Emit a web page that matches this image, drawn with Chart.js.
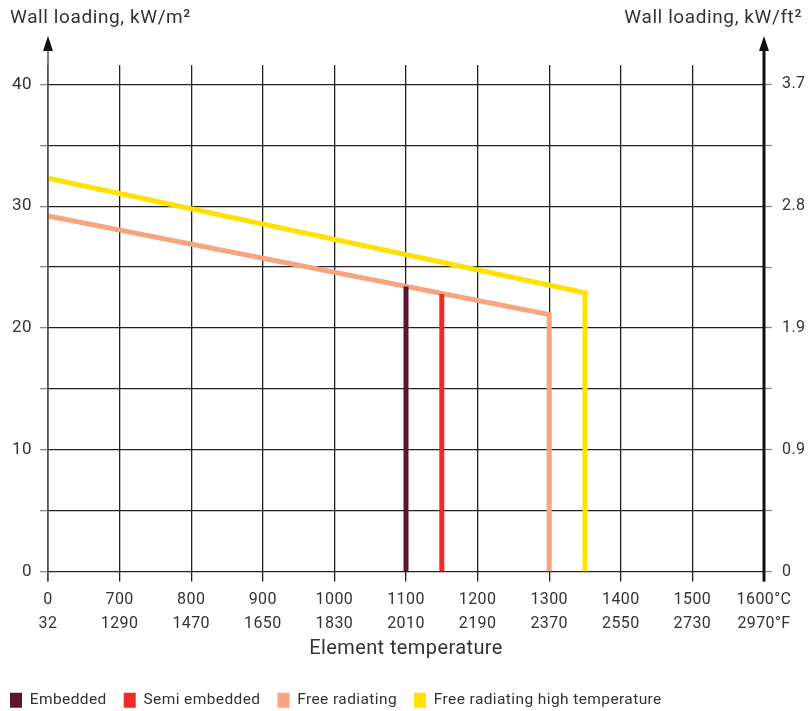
<!DOCTYPE html>
<html>
<head>
<meta charset="utf-8">
<script src="https://cdn.jsdelivr.net/npm/chart.js@4/dist/chart.umd.min.js"></script>
<style>
  html, body { margin: 0; padding: 0; background: #fff; }
  #wrap { width: 808px; height: 711px; }
</style>
</head>
<body>
<div id="wrap"><canvas id="wallChart"></canvas></div>
<script>
// valeurs
const celsiusTicks = [600, 700, 800, 900, 1000, 1100, 1200, 1300, 1400, 1500, 1600];
const celsiusLabels = ["0", "700", "800", "900", "1000", "1100", "1200", "1300", "1400", "1500", "1600°C"];
const fahrenheitLabels = ["32", "1290", "1470", "1650", "1830", "2010", "2190", "2370", "2550", "2730", "2970°F"];
const loadTicks = [0, 5, 10, 15, 20, 25, 30, 35, 40];
const loadLabelsM2 = { 0: "0", 10: "10", 20: "20", 30: "30", 40: "40" };
const loadLabelsFt2 = { 0: "0", 10: "0.9", 20: "1.9", 30: "2.8", 40: "3.7" };

const embeddedTemp = [1100, 1100];
const embeddedLoad = [0, 23.4];
const semiTemp = [1150, 1150];
const semiLoad = [0, 22.8];
const freeTemp = [600, 1300, 1300];
const freeLoad = [29.2, 21.1, 0];
const highTemp = [600, 1350, 1350];
const highLoad = [32.3, 22.9, 0];

function pts(xs, ys) {
  return xs.map(function (x, i) { return { x: x, y: ys[i] }; });
}

const FONT = "Roboto";
const TXT = "#333";
const SPACING = "0.4px";

// petit espacement des lettres, pour coller a la police d'origine
const spacing = {
  id: "spacing",
  beforeLayout: function (chart) { chart.ctx.letterSpacing = SPACING; },
  beforeDraw: function (chart) { chart.ctx.letterSpacing = SPACING; }
};

// titres en haut + fleches des axes
const axisDeco = {
  id: "axisDeco",
  afterDraw: function (chart) {
    const c = chart.ctx;
    const a = chart.chartArea;
    c.save();
    // axe gauche
    c.strokeStyle = "#555";
    c.lineWidth = 1.5;
    c.beginPath(); c.moveTo(a.left, 45); c.lineTo(a.left, a.bottom + 10); c.stroke();
    c.fillStyle = "#111";
    c.beginPath(); c.moveTo(a.left, 36); c.lineTo(a.left - 5, 51); c.lineTo(a.left + 5, 51); c.closePath(); c.fill();
    // axe droit
    c.strokeStyle = "#111";
    c.lineWidth = 3;
    c.beginPath(); c.moveTo(a.right, 45); c.lineTo(a.right, a.bottom + 10); c.stroke();
    c.beginPath(); c.moveTo(a.right, 36); c.lineTo(a.right - 5, 51); c.lineTo(a.right + 5, 51); c.closePath(); c.fill();
    // titres
    c.fillStyle = TXT;
    c.letterSpacing = "0.6px";
    c.font = "19px " + FONT;
    c.textBaseline = "middle";
    c.textAlign = "left";
    c.fillText("Wall loading, kW/m²", 10, 18);
    c.textAlign = "right";
    c.fillText("Wall loading, kW/ft²", 802, 18);
    c.restore();
  }
};

window.addEventListener("DOMContentLoaded", function () {
  const ctx = document.getElementById("wallChart").getContext("2d");
  const mk = function (label, data, color) {
    return {
      label: label, data: data, borderColor: color, backgroundColor: color,
      borderWidth: 5, pointRadius: 0, tension: 0, fill: false, yAxisID: "y"
    };
  };

  new Chart(ctx, {
    type: "line",
    data: {
      datasets: [
        mk("Embedded", pts(embeddedTemp, embeddedLoad), "#5c1530"),
        mk("Semi embedded", pts(semiTemp, semiLoad), "#ee2b24"),
        mk("Free radiating", pts(freeTemp, freeLoad), "#f7a47f"),
        mk("Free radiating high temperature", pts(highTemp, highLoad), "#ffe100")
      ]
    },
    options: {
      responsive: true,
      maintainAspectRatio: false,
      animation: false,
      layout: { padding: { top: 65, left: -7, right: 0, bottom: -7 } },
      plugins: {
        tooltip: { enabled: false },
        legend: {
          position: "bottom",
          align: "start",
          labels: {
            boxWidth: 12, boxHeight: 15, padding: 17, color: TXT,
            font: { family: FONT, size: 15.5 },
            generateLabels: function (chart) {
              return Chart.defaults.plugins.legend.labels.generateLabels(chart).map(function (l) {
                l.lineWidth = 0; l.strokeStyle = "transparent"; return l;
              });
            }
          }
        }
      },
      scales: {
        x: {
          type: "linear", min: 600, max: 1600,
          afterBuildTicks: function (s) { s.ticks = celsiusTicks.map(function (v) { return { value: v }; }); },
          afterFit: function (s) { s.height = 104; },
          grid: {
            color: function (c) { return c.tick && c.tick.value === 600 ? "#555" : "#222"; },
            lineWidth: function (c) { return c.tick && c.tick.value === 1600 ? 0 : 1.3; },
            tickLength: 10, tickColor: "#222", tickWidth: 1.3
          },
          border: { display: false },
          ticks: {
            color: TXT, font: { family: FONT, size: 16, lineHeight: 1.5 }, padding: 6,
            maxRotation: 0, autoSkip: false,
            callback: function (v) {
              const i = celsiusTicks.indexOf(v);
              return i < 0 ? "" : [celsiusLabels[i], fahrenheitLabels[i]];
            }
          },
          title: {
            display: true, text: "Element temperature", color: TXT,
            font: { family: FONT, size: 20 }, padding: { top: 0, bottom: 15 }
          }
        },
        y: {
          position: "left", min: 0, max: 41.6,
          afterBuildTicks: function (s) { s.ticks = loadTicks.map(function (v) { return { value: v }; }); },
          afterFit: function (s) { s.width = 55; },
          grid: { color: "#222", lineWidth: 1.3, tickLength: 8, tickColor: "#888", tickWidth: 1.3 },
          border: { display: false },
          ticks: {
            color: TXT, font: { family: FONT, size: 17 }, padding: 8,
            callback: function (v) { return loadLabelsM2[v] || ""; }
          }
        },
        y2: {
          position: "right", min: 0, max: 41.6,
          afterBuildTicks: function (s) { s.ticks = loadTicks.map(function (v) { return { value: v }; }); },
          afterFit: function (s) { s.width = 44; },
          grid: { drawOnChartArea: false, tickLength: 8, tickColor: "#888", tickWidth: 1.3 },
          border: { display: false },
          ticks: {
            color: TXT, font: { family: FONT, size: 16 }, padding: 10,
            callback: function (v) { return loadLabelsFt2[v] || ""; }
          }
        }
      }
    },
    plugins: [spacing, axisDeco]
  });
});
</script>
</body>
</html>
